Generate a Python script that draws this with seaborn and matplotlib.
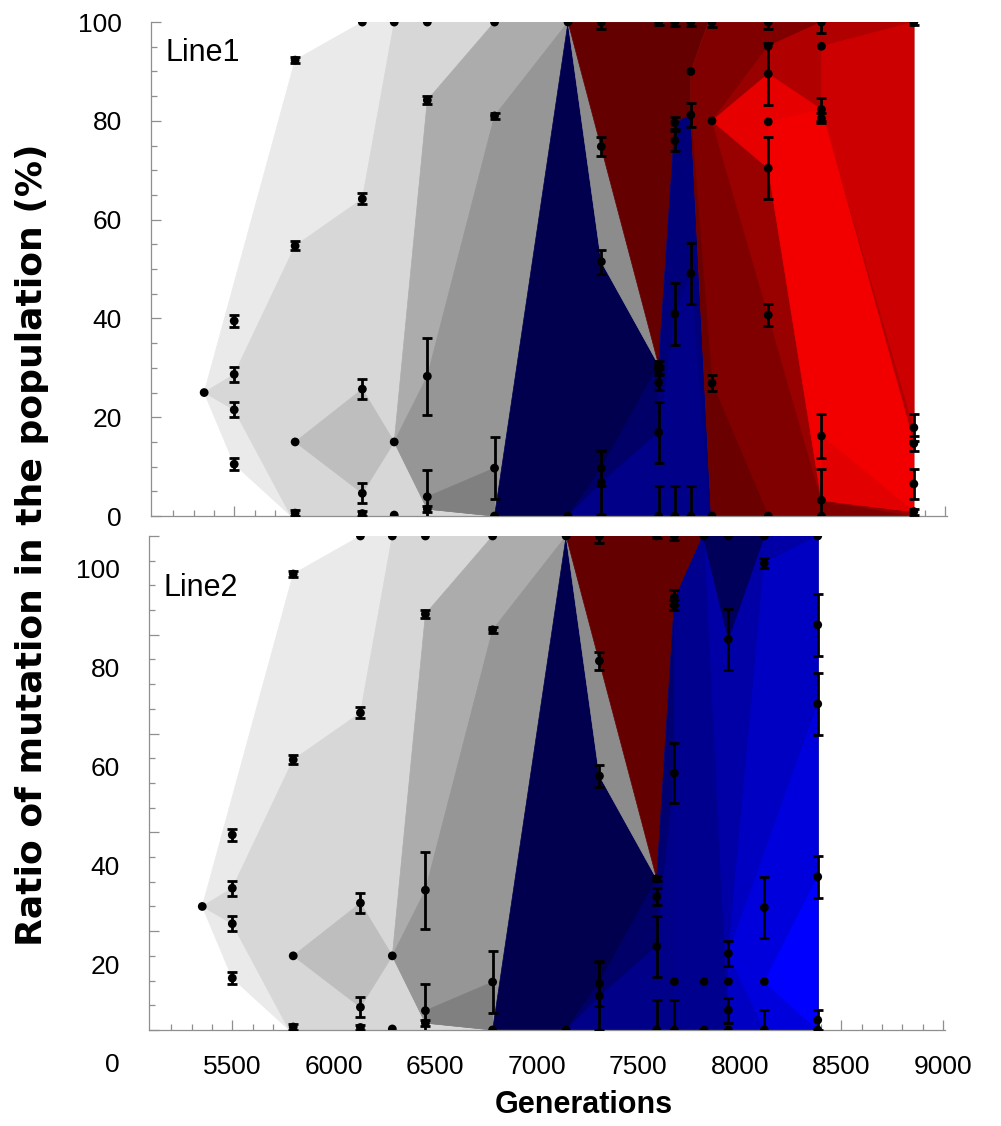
import matplotlib
matplotlib.use("Agg")
import matplotlib.pyplot as plt
import matplotlib.transforms as mtransforms
import pandas as pd
import seaborn as sns

# clone areas (generation, % of population), shared by both lines
clone_a = [(5352, 25), (5800, 92.3), (6131, 100), (7144, 100), (7144, 0), (5780, 0), (5500, 10.5)]
clone_b = [(5352, 25), (5500, 28.7), (5800, 54.7), (6131, 64.2), (6288, 100), (7144, 100),
           (7144, 0), (5780, 0), (5500, 21.5)]
clone_c = [(5800, 15), (6131, 25.7), (6288, 15), (6131, 4.6)]
clone_d = [(6288, 15), (6451, 84.2), (6782, 100), (7144, 100), (6782, 0), (6451, 1.4)]
clone_e = [(6288, 15), (6451, 28.3), (6782, 81), (7144, 100), (6782, 0), (6451, 1.4)]
clone_f = [(6451, 3.9), (6782, 9.7), (6782, 0), (6451, 1.4)]
clone_g = [(6782, 0), (7144, 100), (7308, 51.5), (7590, 30.6), (7590, 0)]
clone_h = [(7144, 100), (7590, 30.6), (7308, 51.5)]
clone_i = [(7144, 0), (7308, 9.7), (7590, 30.6), (7590, 0)]

# Line1 clones
line1_maroon = [(7144, 100), (7590, 30.6), (7670, 79.6), (7749, 81.2), (7749, 90), (7835, 100)]
line1_spike = [(7590, 30.6), (7670, 79.6), (7749, 81.2), (7850, 0), (7590, 0)]
line1_low = [(7144, 0), (7308, 6.8), (7590, 16.9), (7670, 40.9), (7749, 49.1), (7840, 0)]
line1_red = [(7749, 81.2), (7749, 90), (7835, 100), (8847, 100), (8847, 0), (7850, 0)]
line1_strip = [(7749, 81.2), (7853, 26.9), (8130, 0), (7850, 0)]
line1_mid = [(7853, 80), (8130, 95.1), (8392, 100), (8847, 100), (8847, 0), (8392, 3.2), (8130, 40.7)]
line1_upper = [(8130, 95.1), (8392, 100), (8847, 100), (8847, 14.7), (8392, 80.5), (8130, 89.5)]
line1_right = [(8392, 95.1), (8847, 100), (8847, 17.9), (8392, 82.3)]
line1_diamond = [(7853, 80), (8130, 89.5), (8392, 82.3), (8130, 79.8), (8130, 70.4)]
line1_band = [(8130, 79.8), (8392, 82.3), (8847, 14.7), (8847, 0.9), (8392, 3.2), (8130, 70.4)]
line1_tip = [(8392, 16.2), (8847, 0.9), (8392, 3.2)]

# Line2 clones
line2_maroon = [(7144, 100), (7590, 30.6), (7677, 87), (7818, 100)]
line2_base = [(7590, 30.6), (7677, 87), (7818, 100), (8383, 100), (8383, 0), (7590, 0)]
line2_low = [(7144, 0), (7308, 6.8), (7590, 16.9), (7677, 52), (7677, 0)]
line2_band1 = [(7677, 87), (7818, 100), (8383, 100), (8383, 0), (7677, 0)]
line2_band2 = [(7823, 100), (8383, 100), (8383, 0), (7943, 0)]
line2_band3 = [(8120, 94.5), (8383, 100), (8383, 0), (7943, 0), (7943, 15.5)]
line2_dark = [(7818, 100), (7943, 79.1), (8120, 100)]
line2_band4 = [(7943, 15.5), (8383, 66), (8383, 0), (8120, 0)]
line2_bright = [(8120, 9.8), (8383, 31), (8383, 0)]

# measured mutation frequencies (mean, error) -- identical early columns for both lines
early_gen = [5352, 5500, 5500, 5500, 5500, 5800, 5800, 5800, 5800,
             6131, 6131, 6131, 6131, 6131, 6288, 6288, 6288,
             6451, 6451, 6451, 6451, 6451, 6782, 6782, 6782, 6782, 7144, 7144]
early_pct = [25, 39.5, 28.7, 21.5, 10.5, 92.3, 54.7, 15.0, 0.6,
             100, 64.2, 25.7, 4.6, 0.5, 100, 15, 0.2,
             100, 84.2, 28.3, 3.9, 1.4, 100, 81, 9.7, 0, 100, 0]
early_err = [0, 1.2, 1.5, 1.5, 1.2, 0.6, 0.9, 0, 0.6,
             0, 1.1, 2.0, 2.0, 0.5, 0, 0, 0,
             0, 0.8, 7.8, 5.5, 0.6, 0, 0.6, 6.3, 0, 0, 0]

line1_gen = [7308] * 5 + [7590] * 6 + [7670] * 5 + [7749] * 5 + [7853] * 4 + [8130] * 7 + [8392] * 7 + [8847] * 5
line1_pct = [100, 74.8, 51.5, 9.7, 6.8,
             100, 30.6, 29.5, 27, 16.9, 0,
             100, 79.6, 76, 40.9, 0,
             100, 90, 81.2, 49.1, 0,
             100, 80, 26.9, 0,
             100, 95.1, 89.5, 79.8, 70.4, 40.7, 0,
             100, 95.1, 82.3, 80.5, 16.2, 3.2, 0,
             100, 17.9, 14.7, 6.5, 0.9]
line1_err = [1.5, 1.9, 2.4, 3.6, 6.4,
             0.5, 0.8, 0.8, 1.5, 6.2, 6,
             0.8, 1.2, 2, 6.2, 6,
             0.8, 0, 2.5, 6.2, 6,
             1, 0, 1.6, 0,
             1.5, 0, 6.2, 0, 6.3, 2.2, 0,
             2.2, 0, 2.4, 1, 4.5, 6.3, 0,
             0.5, 2.7, 1.5, 3, 0.6]

line2_gen = [7308] * 5 + [7590] * 5 + [7677] * 6 + [7823] * 3 + [7943] * 6 + [8120] * 5 + [8383] * 6
line2_pct = [100, 74.7, 51.4, 9.4, 6.9,
             100, 30.6, 27, 16.9, 0,
             100, 87.5, 86, 52, 9.8, 0,
             100, 9.8, 0,
             100, 79.1, 15.5, 9.8, 4, 0,
             100, 94.5, 24.8, 9.8, 0,
             100, 82, 66, 31, 2, 0]
line2_err = [1.5, 1.8, 2.2, 4.5, 6.9,
             0.5, 0.5, 1.7, 6.1, 6,
             0.8, 1.5, 1, 6.1, 0, 6,
             0, 0, 0,
             0, 6.2, 2.5, 0, 2.5, 0,
             0, 1, 6.2, 0, 4,
             0, 6.2, 6.3, 4.3, 2, 0]

grays = ["#eaeaea", "#d7d7d7", "#bebebe", "#acacac", "#969696", "#808080", "#00004f", "#8c8c8c", "#000068"]
line1_colors = ["#640000", "#00007a", "#000088", "#800000", "#6a0000", "#990000", "#b00000",
                "#cc0000", "#e60000", "#f20000", "#e20000"]
line2_colors = ["#640000", "#000070", "#000088", "#00008e", "#0000a6", "#0000c2", "#00005a",
                "#0000dc", "#0000ff"]

shared = [clone_a, clone_b, clone_c, clone_d, clone_e, clone_f, clone_g, clone_h, clone_i]
line1_clones = [line1_maroon, line1_spike, line1_low, line1_red, line1_strip, line1_mid,
                line1_upper, line1_right, line1_diamond, line1_band, line1_tip]
line2_clones = [line2_maroon, line2_base, line2_low, line2_band1, line2_band2, line2_band3,
                line2_dark, line2_band4, line2_bright]

sns.set_theme(style="ticks")
plt.rcParams["font.family"] = ["Liberation Sans", "DejaVu Sans"]
plt.rcParams["text.color"] = "black"
plt.rcParams["xtick.labelcolor"] = "black"
plt.rcParams["ytick.labelcolor"] = "black"

fig = plt.figure(figsize=(10.01, 11.26), dpi=100)
ax1 = fig.add_axes([0.1508, 0.5417, 0.7952, 0.4387])
ax2 = fig.add_axes([0.1489, 0.0853, 0.7952, 0.4387])


def draw_panel(ax, clones, colors, gen, pct, err, name, label_y):
    for verts, col in zip(shared + clones, grays + colors):
        xs, ys = zip(*verts)
        ax.fill(xs, ys, color=col, ec=col, lw=0.5)
    df = pd.DataFrame({"gen": early_gen + gen, "pct": early_pct + pct, "err": early_err + err})
    bars = df[df["err"] > 0]
    ax.errorbar(bars["gen"], bars["pct"], yerr=bars["err"], fmt="none", ecolor="black",
                elinewidth=2, capsize=3.8, capthick=2, zorder=3)
    sns.scatterplot(data=df, x="gen", y="pct", color="black", s=40, edgecolor="none",
                    ax=ax, zorder=4, legend=False)
    ax.set_xlim(5090, 9010)
    ax.set_ylim(0, 100)
    ax.set_xticks(range(5500, 9001, 500))
    ax.set_xticks(range(5200, 9001, 100), minor=True)
    ax.set_yticks(range(0, 101, 20))
    ax.set_yticks(range(0, 101, 5), minor=True)
    ax.set_xlabel("")
    ax.set_ylabel("")
    ax.tick_params(which="both", direction="in", color="#8f8f8f", width=0.9)
    ax.tick_params(which="major", length=7)
    ax.tick_params(which="minor", length=4)
    ax.tick_params(axis="y", labelsize=19, pad=21)
    ax.tick_params(axis="x", labelsize=19, pad=18)
    sns.despine(ax=ax)
    for side in ["left", "bottom"]:
        ax.spines[side].set_color("#8f8f8f")
        ax.spines[side].set_linewidth(0.9)
    ax.text(0.018, label_y, name, transform=ax.transAxes, fontsize=22, va="center", ha="left",
            color="black")


draw_panel(ax1, line1_clones, line1_colors, line1_gen, line1_pct, line1_err, "Line1", 0.937)
draw_panel(ax2, line2_clones, line2_colors, line2_gen, line2_pct, line2_err, "Line2", 0.895)
ax1.tick_params(axis="x", labelbottom=False)

# the lower panel's y labels sit lower than its ticks in the original figure
shift = mtransforms.ScaledTranslation(0, -0.33, fig.dpi_scale_trans)
for lab in ax2.get_yticklabels():
    lab.set_transform(lab.get_transform() + shift)

fig.text(0.032, 0.516, "Ratio of mutation in the population (%)", rotation=90, ha="center",
         va="center", fontsize=26, fontweight="bold", family="DejaVu Sans", color="black")
fig.text(0.583, 0.019, "Generations", ha="center", va="center", fontsize=22,
         fontweight="bold", color="black")

fig.savefig("out.png", dpi=100, facecolor="white")
